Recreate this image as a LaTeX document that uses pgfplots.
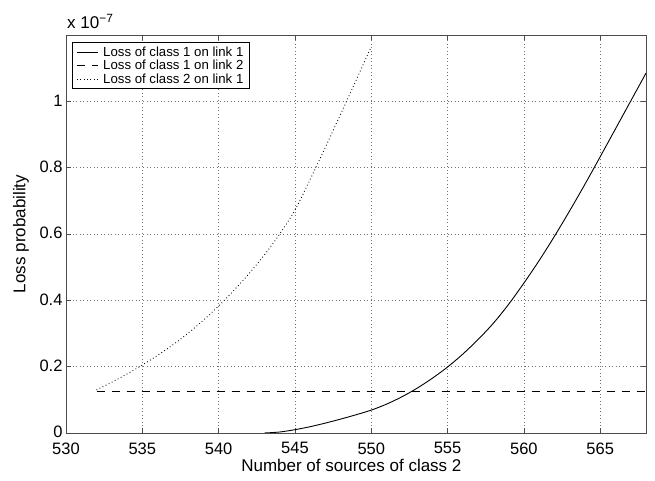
\documentclass[border=0pt]{standalone}
\usepackage{pgfplots}
\pgfplotsset{compat=1.18}
\usepackage{fontspec}
\setmainfont{Liberation Sans}
\pgfplotstableread{
x y
543 0
544 0.003
545 0.010
546 0.019
547 0.030
548 0.042
549 0.055
550 0.069
551 0.087
552 0.109
553 0.135
554 0.165
555 0.199
556 0.238
557 0.282
558 0.331
559 0.388
560 0.452
561 0.520
562 0.593
563 0.670
564 0.750
565 0.833
566 0.917
567 1.001
568 1.085
}\solid
\pgfplotstableread{
x y
532 0.124
568 0.124
}\dashed
\pgfplotstableread{
x y
532 0.130
533 0.153
534 0.178
535 0.205
536 0.234
537 0.266
538 0.301
539 0.340
540 0.383
541 0.430
542 0.481
543 0.537
544 0.600
545 0.672
546 0.765
547 0.862
548 0.962
549 1.063
550 1.165
}\dotted
\begin{document}
\begin{tikzpicture}
\begin{axis}[
  scale only axis, width=580pt, height=398pt,
  xmin=530, xmax=568, ymin=0, ymax=1.2,
  xtick={530,535,540,545,550,555,560,565},
  ytick={0,0.2,0.4,0.6,0.8,1},
  grid=major,
  major grid style={black!55, dash pattern=on 0.7pt off 2.8pt, line width=0.5pt},
  tick pos=both, tick align=inside, major tick length=5pt,
  axis line style={black!70, line width=0.8pt},
  every tick/.style={black!70, line width=0.6pt},
  /pgf/number format/assume math mode=true,
  ticklabel style={font=\fontsize{16.5}{19}\selectfont},
  xticklabel style={yshift=-6pt},
  yticklabel style={yshift=1pt},
  xlabel={Number of sources of class 2},
  ylabel={Loss probability},
  label style={font=\fontsize{17}{20}\selectfont},
  xlabel style={at={(axis description cs:0.492,-0.0804)},anchor=center},
  ylabel style={at={(axis description cs:-0.0777,0.5)},anchor=center},
  legend style={at={(axis description cs:0.0104,0.982)}, anchor=north west,
    draw=black, line width=0.6pt, font=\fontsize{13.2}{15}\selectfont,
    inner xsep=4pt, inner ysep=2pt, row sep=-1.5pt},
  legend cell align=left,
  legend image code/.code={\draw[#1] (0pt,0pt) -- (21pt,0pt); \path (24pt,0pt);},
]
\addplot[black, line width=0.9pt, smooth] table {\solid};
\addlegendentry{Loss of class 1 on link 1}
\addplot[black, line width=0.9pt, dash pattern=on 8.5pt off 6.5pt] table {\dashed};
\addlegendentry{Loss of class 1 on link 2}
\addplot[black, line width=0.9pt, dash pattern=on 0.8pt off 2.6pt, smooth] table {\dotted};
\addlegendentry{Loss of class 2 on link 1}
\end{axis}
\node[anchor=south west, font=\fontsize{17}{20}\selectfont, inner sep=0pt] at ([shift={(1pt,6pt)}]current axis.north west) {x 10\textsuperscript{−7}};
\pgfresetboundingbox
\path[use as bounding box] ([shift={(-66pt,-48pt)}]current axis.south west) rectangle ([shift={(9pt,35pt)}]current axis.north east);
\end{tikzpicture}
\end{document}
